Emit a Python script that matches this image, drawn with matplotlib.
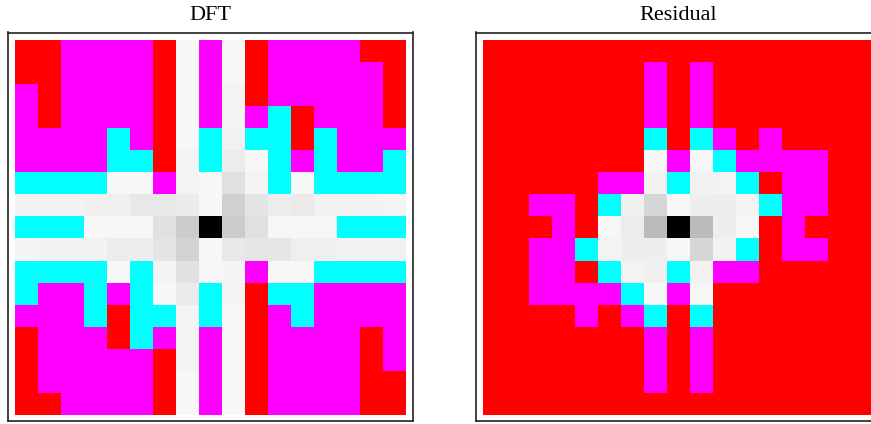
import numpy as np
import matplotlib
matplotlib.use("Agg")
import matplotlib.pyplot as plt

# cell codes: -1 red, -2 magenta, -3 cyan, 0..255 grey level (0 = black)
R, M, C = -1, -2, -3
W = 247

dft = [
    [R, R, M, M, M, M, R, W, M, W, R, M, M, M, M, R, R],
    [R, R, M, M, M, M, R, W, M, W, R, M, M, M, M, M, R],
    [M, R, M, M, M, M, R, W, M, 243, R, M, M, M, M, M, R],
    [M, R, M, M, M, M, R, W, M, 243, M, C, R, M, M, M, R],
    [M, M, M, M, C, M, R, W, C, 242, C, C, R, C, M, M, M],
    [M, M, M, M, C, C, R, 243, C, 236, W, C, M, C, M, M, C],
    [C, C, C, C, W, W, M, 243, W, 224, 243, C, W, C, C, C, C],
    [242, 242, 242, 240, 240, 232, 232, 235, W, 208, 228, 236, 234, 242, 242, 242, 244],
    [C, C, C, W, W, W, 224, 204, 0, 204, 224, W, W, W, C, C, C],
    [244, 242, 242, 242, 236, 238, 228, 210, W, 232, 230, 230, 239, 239, 242, 242, 242],
    [C, C, C, C, W, C, 243, 226, W, 245, M, W, W, C, C, C, C],
    [C, M, M, C, M, C, W, 235, C, 243, R, C, C, M, M, M, M],
    [M, M, M, C, R, C, C, 243, C, W, R, M, C, M, M, M, M],
    [R, M, M, M, R, C, M, 243, M, W, R, M, M, M, M, R, M],
    [R, M, M, M, M, M, R, 243, M, W, R, M, M, M, M, R, M],
    [R, M, M, M, M, M, R, W, M, W, R, M, M, M, M, R, R],
    [R, R, M, M, M, M, R, W, M, W, R, M, M, M, M, R, R],
]

residual = [
    [R, R, R, R, R, R, R, R, R, R, R, R, R, R, R, R, R],
    [R, R, R, R, R, R, R, M, R, M, R, R, R, R, R, R, R],
    [R, R, R, R, R, R, R, M, R, M, R, R, R, R, R, R, R],
    [R, R, R, R, R, R, R, M, R, M, R, R, R, R, R, R, R],
    [R, R, R, R, R, R, R, C, R, C, M, R, M, R, R, R, R],
    [R, R, R, R, R, R, R, W, M, W, C, M, M, M, M, R, R],
    [R, R, R, R, R, M, M, 242, C, 242, 243, C, R, M, M, R, R],
    [R, R, M, M, R, C, 240, 214, W, 238, 238, 243, C, M, M, R, R],
    [R, R, R, M, R, W, 236, 187, 0, 187, 238, W, R, M, R, R, R],
    [R, R, M, M, C, 243, 238, 238, W, 214, 242, C, R, M, M, R, R],
    [R, R, M, M, R, C, 243, 240, C, 242, M, M, R, R, R, R, R],
    [R, R, M, M, M, M, C, W, M, W, R, R, R, R, R, R, R],
    [R, R, R, R, M, R, M, C, R, C, R, R, R, R, R, R, R],
    [R, R, R, R, R, R, R, M, R, M, R, R, R, R, R, R, R],
    [R, R, R, R, R, R, R, M, R, M, R, R, R, R, R, R, R],
    [R, R, R, R, R, R, R, M, R, M, R, R, R, R, R, R, R],
    [R, R, R, R, R, R, R, R, R, R, R, R, R, R, R, R, R],
]

titles = ["DFT", "Residual"]
code_colors = {R: (1, 0, 0), M: (1, 0, 1), C: (0, 1, 1)}


def to_rgb(grid):
    g = np.array(grid, dtype=float)
    rgb = np.repeat((np.clip(g, 0, 255) / 255.0)[..., None], 3, axis=2)
    for code, col in code_colors.items():
        rgb[g == code] = col
    return rgb


fig = plt.figure(figsize=(8.71, 4.24), dpi=100)
W_px, H_px = 871, 424
lefts = [7.5, 475.5]
for left, grid, title in zip(lefts, [dft, residual], titles):
    ax = fig.add_axes([left / W_px, (H_px - 421) / H_px, 405 / W_px, 388.5 / H_px])
    ax.imshow(to_rgb(grid), aspect="auto", interpolation="nearest")
    ax.set_xlim(-0.5 - 0.326, 16.5 + 0.283)
    ax.set_ylim(16.5 + 0.273, -0.5 - 0.386)
    ax.set_xticks([])
    ax.set_yticks([])
    for s in ax.spines.values():
        s.set_color("#222222")
        s.set_linewidth(1.2)
    ax.set_title(title, fontfamily="Liberation Serif", fontsize=16, pad=9)

fig.savefig("out.png", dpi=100)
